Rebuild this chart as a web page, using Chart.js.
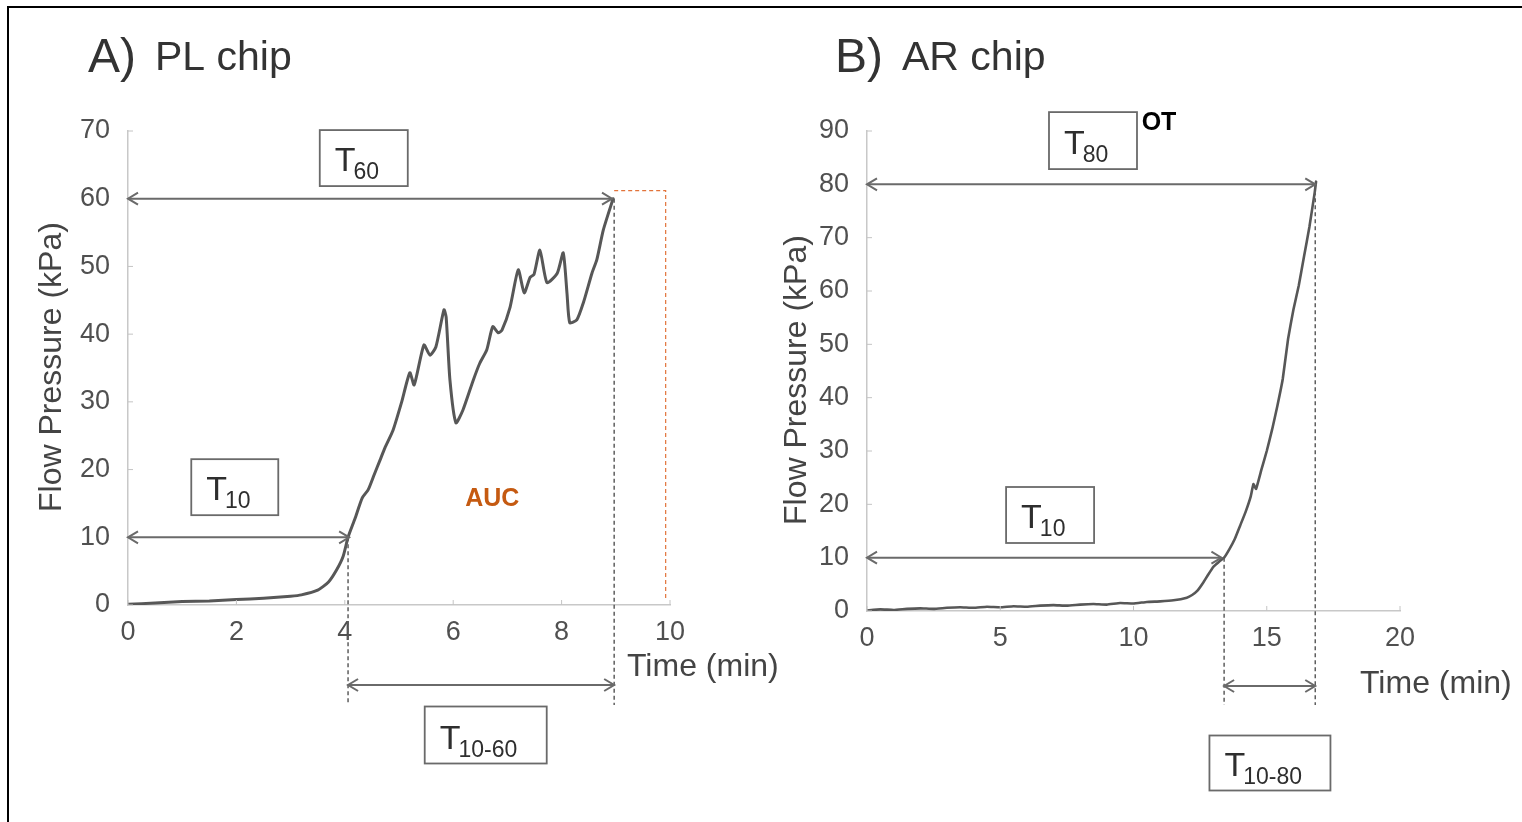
<!DOCTYPE html>
<html><head><meta charset="utf-8">
<script src="https://cdn.jsdelivr.net/npm/chart.js@4.4.1/dist/chart.umd.min.js"></script>
<style>
html,body{margin:0;padding:0;background:#fff;width:1522px;height:822px;overflow:hidden;position:relative;}
#frame{position:absolute;left:7px;top:6px;width:1530px;height:830px;border-left:2px solid #000;border-top:2px solid #000;}
canvas{position:absolute;top:0;background:transparent;}
#c1{left:0;} #c2{left:760px;}
</style></head><body>
<div id="frame"></div>
<canvas id="c1" width="800" height="822"></canvas>
<canvas id="c2" width="762" height="822"></canvas>
<script>
// ---- Data: A) PL chip ----
const plTime = [0, 0.5, 1, 1.5, 2, 2.5, 3, 3.2, 3.5, 3.7, 3.85, 3.97, 4.06, 4.19, 4.32, 4.43, 4.54, 4.65, 4.74, 4.89, 5.05, 5.2, 5.28, 5.46, 5.57, 5.68, 5.83, 5.87, 5.94, 6.05, 6.18, 6.37, 6.49, 6.62, 6.73, 6.83, 6.9, 7.05, 7.2, 7.31, 7.42, 7.49, 7.6, 7.73, 7.92, 8.03, 8.1, 8.15, 8.28, 8.4, 8.56, 8.65, 8.77, 8.95];
const plPressure = [0.1, 0.3, 0.5, 0.6, 0.8, 1.0, 1.3, 1.5, 2.2, 3.4, 5.2, 7.2, 10, 12.8, 15.8, 17.0, 19.2, 21.4, 23.2, 25.8, 30, 34.3, 32.5, 38.4, 36.9, 38.1, 43.6, 42.5, 33.2, 26.9, 28.8, 33.2, 35.7, 37.7, 41.1, 40.2, 40.6, 44.0, 49.5, 46.1, 48.4, 48.8, 52.4, 47.6, 49.0, 52.0, 46, 41.7, 42.1, 44.6, 49.0, 51, 55.4, 60];
const plXTicks = [0, 2, 4, 6, 8, 10];
const plYTicks = [0, 10, 20, 30, 40, 50, 60, 70];
const plT10 = 4.06, plT60 = 8.97;

// ---- Data: B) AR chip ----
const arTime = [0, 0.5, 1, 1.5, 2, 2.5, 3, 3.5, 4, 4.5, 5, 5.5, 6, 6.5, 7, 7.5, 8, 8.5, 9, 9.5, 10, 10.5, 11, 11.5, 12, 12.2, 12.4, 12.6, 12.8, 13, 13.2, 13.4, 13.6, 13.8, 14, 14.2, 14.4, 14.5, 14.6, 14.8, 15, 15.2, 15.4, 15.6, 15.8, 16, 16.2, 16.4, 16.6, 16.8, 16.85];
const arPressure = [0.1, 0.3, 0.2, 0.4, 0.5, 0.4, 0.6, 0.7, 0.6, 0.8, 0.7, 0.9, 0.8, 1.0, 1.1, 1.0, 1.2, 1.3, 1.2, 1.5, 1.4, 1.7, 1.8, 2.0, 2.5, 3.0, 3.8, 5.2, 6.8, 8.3, 9.2, 10, 11.6, 13.5, 16, 18.5, 21.5, 23.8, 22.9, 26.5, 30, 34, 38.5, 43.5, 51, 56.5, 61, 66.5, 72, 78.5, 80.5];
const arXTicks = [0, 5, 10, 15, 20];
const arYTicks = [0, 10, 20, 30, 40, 50, 60, 70, 80, 90];
const arT10 = 13.4, arT80 = 16.82;

const FONT = "'Liberation Sans', Arial, Helvetica, sans-serif";

function arrow(ctx, x0, x1, y) {
  ctx.beginPath(); ctx.moveTo(x0, y); ctx.lineTo(x1, y); ctx.stroke();
  const a = 10, b = 6;
  ctx.beginPath();
  ctx.moveTo(x0 + a, y - b); ctx.lineTo(x0, y); ctx.lineTo(x0 + a, y + b);
  ctx.moveTo(x1 - a, y - b); ctx.lineTo(x1, y); ctx.lineTo(x1 - a, y + b);
  ctx.stroke();
}

const annotPlugin = {
  id: 'annot',
  afterDatasetsDraw(chart, args, o) {
    const { ctx, chartArea: ca, scales: { x, y } } = chart;
    const px = v => x.getPixelForValue(v), py = v => y.getPixelForValue(v);
    ctx.save();
    ctx.strokeStyle = '#c4c4c4'; ctx.lineWidth = 1;
    x.ticks.forEach(t => { const X = px(t.value); ctx.beginPath(); ctx.moveTo(X, ca.bottom); ctx.lineTo(X, ca.bottom - 5); ctx.stroke(); });
    y.ticks.forEach(t => { const Y = py(t.value); ctx.beginPath(); ctx.moveTo(ca.left, Y); ctx.lineTo(ca.left + 5, Y); ctx.stroke(); });
    ctx.strokeStyle = '#5e5e5e'; ctx.lineWidth = 1.5; ctx.setLineDash([4, 3]);
    o.vDash.forEach(d => { ctx.beginPath(); ctx.moveTo(px(d.t), py(d.p)); ctx.lineTo(px(d.t), ca.bottom + d.below); ctx.stroke(); });
    if (o.auc) {
      ctx.strokeStyle = '#e2733a'; ctx.lineWidth = 1.2; ctx.setLineDash([4, 3]);
      ctx.beginPath();
      ctx.moveTo(px(o.auc.t0), py(o.auc.pTop)); ctx.lineTo(px(o.auc.t1), py(o.auc.pTop)); ctx.lineTo(px(o.auc.t1), py(o.auc.pBot));
      ctx.stroke();
    }
    ctx.setLineDash([]);
    ctx.strokeStyle = '#6a6a6a'; ctx.lineWidth = 2;
    o.hArrows.forEach(a => {
      const Y = a.p !== undefined ? py(a.p) : ca.bottom + a.below;
      arrow(ctx, px(a.t0), px(a.t1), Y);
    });
    o.boxes.forEach(b => {
      const cx = px(b.t), cy = b.p !== undefined ? py(b.p) : ca.bottom + b.below;
      const l = cx - b.w / 2, t = cy - b.h / 2;
      ctx.fillStyle = '#fff'; ctx.fillRect(l, t, b.w, b.h);
      ctx.strokeStyle = '#6a6a6a'; ctx.lineWidth = 1.8; ctx.strokeRect(l, t, b.w, b.h);
      ctx.fillStyle = '#2e2e2e'; ctx.textAlign = 'left'; ctx.textBaseline = 'alphabetic';
      ctx.font = '34px ' + FONT;
      const tx = l + 15, base = t + b.h - 15;
      ctx.fillText(b.main, tx, base);
      const w = ctx.measureText(b.main).width;
      ctx.font = '23px ' + FONT;
      ctx.fillText(b.sub, tx + w - 2, base + 8);
    });
    o.texts.forEach(s => {
      ctx.font = s.font; ctx.fillStyle = s.color; ctx.textAlign = s.align || 'center'; ctx.textBaseline = 'middle';
      const X = s.t !== undefined ? px(s.t) : s.x, Y = s.p !== undefined ? py(s.p) : s.y;
      ctx.fillText(s.text, X, Y);
    });
    ctx.restore();
  },
  afterDraw(chart, args, o) {
    const { ctx } = chart;
    ctx.save();
    ctx.fillStyle = '#333'; ctx.textAlign = 'left'; ctx.textBaseline = 'alphabetic';
    ctx.font = '48px ' + FONT; ctx.fillText(o.title.big, o.title.x, 72);
    ctx.font = '41px ' + FONT; ctx.fillText(o.title.small, o.title.x2, 70);
    ctx.fillStyle = '#444';
    ctx.font = '32px ' + FONT;
    ctx.fillText(o.xTitle.text, o.xTitle.x, o.xTitle.y);
    ctx.translate(o.yTitle.x, o.yTitle.y); ctx.rotate(-Math.PI / 2);
    ctx.textAlign = 'center'; ctx.textBaseline = 'middle';
    ctx.fillText(o.yTitle.text, 0, 0);
    ctx.restore();
  }
};

function makeChart(id, times, pressures, xMax, xStep, yMax, yStep, pad, lineW, tension, annot) {
  return new Chart(document.getElementById(id), {
    type: 'line',
    data: { datasets: [{
      data: times.map((t, i) => ({ x: t, y: pressures[i] })),
      borderColor: '#575757', borderWidth: lineW, pointRadius: 0, tension: tension, fill: false,
      borderJoinStyle: 'round', borderCapStyle: 'round'
    }] },
    options: {
      responsive: false, animation: false, devicePixelRatio: 1,
      layout: { padding: pad },
      plugins: { legend: { display: false }, tooltip: { enabled: false }, annot: annot },
      scales: {
        x: { type: 'linear', min: 0, max: xMax,
             afterFit: s => { s.height = 45; },
             grid: { display: false }, border: { display: true, color: '#c8c8c8', width: 1.5 },
             ticks: { stepSize: xStep, padding: 3, color: '#505050', font: { family: FONT, size: 27 }, maxRotation: 0 } },
        y: { type: 'linear', min: 0, max: yMax,
             afterFit: s => { s.width = 60; },
             grid: { display: false }, border: { display: true, color: '#c8c8c8', width: 1.5 },
             ticks: { stepSize: yStep, padding: 10, color: '#505050', font: { family: FONT, size: 27 } } }
      }
    },
    plugins: [annotPlugin]
  });
}

makeChart('c1', plTime, plPressure, plXTicks[plXTicks.length - 1], plXTicks[1] - plXTicks[0],
  plYTicks[plYTicks.length - 1], plYTicks[1] - plYTicks[0],
  { left: 68, right: 130, top: 131, bottom: 172 }, 3, 0.2, {
    title: { big: 'A)', small: 'PL chip', x: 88, x2: 155 },
    xTitle: { text: 'Time (min)', x: 627, y: 676 },
    yTitle: { text: 'Flow Pressure (kPa)', x: 52, y: 367 },
    vDash: [{ t: plT10, p: 10, below: 100 }, { t: plT60, p: 60, below: 100 }],
    auc: { t0: plT60, t1: 9.92, pTop: 61.2, pBot: 0.8 },
    hArrows: [{ t0: 0, t1: plT60 - 0.04, p: 60 }, { t0: 0, t1: plT10 + 0.02, p: 10 }, { t0: plT10, t1: plT60, below: 80 }],
    boxes: [
      { t: 4.35, p: 66.0, w: 88, h: 56, main: 'T', sub: '60' },
      { t: 1.97, p: 17.4, w: 87, h: 56, main: 'T', sub: '10' },
      { t: 6.6, below: 130, w: 122, h: 57, main: 'T', sub: '10-60' }
    ],
    texts: [{ text: 'AUC', t: 6.72, p: 15.7, font: 'bold 25px ' + FONT, color: '#c55a11' }]
  });

makeChart('c2', arTime, arPressure, arXTicks[arXTicks.length - 1], arXTicks[1] - arXTicks[0],
  arYTicks[arYTicks.length - 1], arYTicks[1] - arYTicks[0],
  { left: 47, right: 122, top: 131, bottom: 166 }, 2.6, 0.1, {
    title: { big: 'B)', small: 'AR chip', x: 75, x2: 142 },
    xTitle: { text: 'Time (min)', x: 600, y: 693 },
    yTitle: { text: 'Flow Pressure (kPa)', x: 37, y: 380 },
    vDash: [{ t: arT10, p: 10, below: 94 }, { t: arT80, p: 80, below: 94 }],
    auc: null,
    hArrows: [{ t0: 0, t1: arT80, p: 80 }, { t0: 0, t1: arT10 - 0.1, p: 10 }, { t0: arT10, t1: arT80, below: 75 }],
    boxes: [
      { t: 8.48, p: 88.2, w: 88, h: 57, main: 'T', sub: '80' },
      { t: 6.87, p: 18.0, w: 88, h: 56, main: 'T', sub: '10' },
      { t: 15.12, below: 152, w: 121, h: 55, main: 'T', sub: '10-80' }
    ],
    texts: [{ text: 'OT', x: 399, y: 123, font: 'bold 25px ' + FONT, color: '#000' }]
  });
</script>
</body></html>
